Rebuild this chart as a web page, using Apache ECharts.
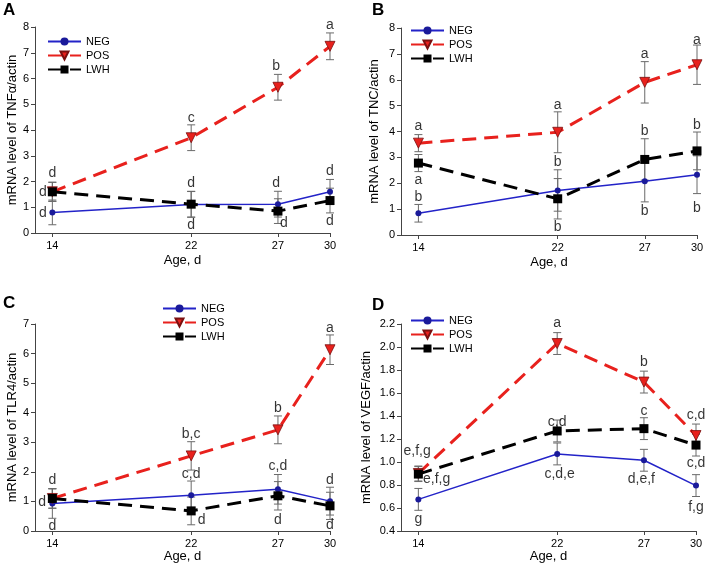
<!DOCTYPE html>
<html>
<head>
<meta charset="utf-8">
<script src="https://cdn.jsdelivr.net/npm/echarts@6/dist/echarts.min.js"></script>
<style>html,body{margin:0;padding:0;background:#fff}#c{width:709px;height:567px}</style>
</head>
<body>
<div id="c"></div>
<script>
// ---------- data ----------
const ages = [14, 22, 27, 30];
const xTicks = [14, 22, 27, 30];

// Panel A: TNFα
const negA = [0.80, 1.11, 1.12, 1.60];
const negAErr = [0.48, 0.50, 0.50, 0.48];
const posA = [1.60, 3.70, 5.66, 7.25];
const posAErr = [0.37, 0.50, 0.50, 0.52];
const lwhA = [1.60, 1.12, 0.85, 1.26];
const lwhAErr = [0.37, 0.50, 0.48, 0.48];
const annA = [[14,2.33,'d'],[13.45,1.58,'d'],[13.45,0.78,'d'],[22,1.92,'d'],[22,0.32,'d'],[26.9,1.92,'d'],[27.35,0.39,'d'],[30,2.39,'d'],[30,0.45,'d'],[22,4.47,'c'],[26.9,6.47,'b'],[30,8.09,'a']];

// Panel B: TNC
const negB = [0.84, 1.72, 2.08, 2.33];
const negBErr = [0.34, 0.80, 0.80, 0.73];
const posB = [3.55, 3.97, 5.90, 6.58];
const posBErr = [0.33, 0.79, 0.80, 0.76];
const lwhB = [2.78, 1.40, 2.92, 3.25];
const lwhBErr = [0.33, 0.78, 0.80, 0.73];
const annB = [[14,4.19,'a'],[14,2.13,'a'],[14,1.46,'b'],[22,5.03,'a'],[22,2.81,'b'],[22,0.32,'b'],[27,6.99,'a'],[27,4.03,'b'],[27,0.94,'b'],[30,7.55,'a'],[30,4.26,'b'],[30,1.03,'b']];

// Panel C: TLR4
const negC = [0.93, 1.21, 1.41, 1.01];
const negCErr = [0.50, 0.48, 0.50, 0.47];
const posC = [1.10, 2.54, 3.42, 6.13];
const posCErr = [0.33, 0.48, 0.47, 0.50];
const lwhC = [1.10, 0.68, 1.19, 0.85];
const lwhCErr = [0.33, 0.47, 0.48, 0.46];
const annC = [[14,1.72,'d'],[13.41,0.98,'d'],[14,0.16,'d'],[22,3.28,'b,c'],[22,1.91,'c,d'],[22.6,0.38,'d'],[27,4.15,'b'],[27,2.2,'c,d'],[27,0.38,'d'],[30,6.86,'a'],[30,1.72,'d'],[30,0.19,'d']];

// Panel D: VEGF
const negD = [0.675, 1.07, 1.015, 0.795];
const negDErr = [0.095, 0.095, 0.095, 0.095];
const posD = [0.90, 2.03, 1.695, 1.23];
const posDErr = [0.065, 0.095, 0.095, 0.10];
const lwhD = [0.895, 1.27, 1.29, 1.147];
const lwhDErr = [0.065, 0.095, 0.095, 0.095];
const annD = [[13.93,1.098,'e,f,g'],[15.05,0.848,'e,f,g'],[14,0.50,'g'],[22,2.21,'a'],[22,1.35,'c,d'],[22.14,0.894,'c,d,e'],[27,1.87,'b'],[27,1.44,'c'],[26.85,0.85,'d,e,f'],[30,1.41,'c,d'],[30,0.987,'c,d'],[30,0.61,'f,g']];

const letters = ['A', 'B', 'C', 'D'];
const yNames = ['mRNA level of TNFα/actin', 'mRNA level of TNC/actin', 'mRNA level of TLR4/actin', 'mRNA level of VEGF/actin'];
const yRanges = [[0, 8, 1], [0, 8, 1], [0, 7, 1], [0.4, 2.2, 0.2]];

// ---------- layout / style ----------
const FONT = 'Liberation Sans, Arial, sans-serif';
const grids = [
  {left: 35, top: 27, width: 295, height: 206},
  {left: 401, top: 28, width: 296, height: 207},
  {left: 35, top: 324, width: 295, height: 207},
  {left: 401, top: 324, width: 295, height: 207}
];
const letterPos = [[3, 2], [372, 2], [3, 295], [372, 297]];
const legendPos = [[47, 36], [410, 25], [162, 303], [410, 315]];
const yNameGap = [15, 20, 15, 20];
const xNameGap = [21, 21, 19, 19];

const panels = [
  {neg: negA, negE: negAErr, pos: posA, posE: posAErr, lwh: lwhA, lwhE: lwhAErr, ann: annA},
  {neg: negB, negE: negBErr, pos: posB, posE: posBErr, lwh: lwhB, lwhE: lwhBErr, ann: annB},
  {neg: negC, negE: negCErr, pos: posC, posE: posCErr, lwh: lwhC, lwhE: lwhCErr, ann: annC},
  {neg: negD, negE: negDErr, pos: posD, posE: posDErr, lwh: lwhD, lwhE: lwhDErr, ann: annD}
];

const BLUE = '#2323c8', RED = '#e8211d', BLACK = '#000000', AX = '#444444', ERR = '#6a6a6a';

function pts(vals) { return ages.map((a, i) => [a, vals[i]]); }
function errPts(vals, errs) { return ages.map((a, i) => [a, vals[i], errs[i]]); }

function errSeries(idx, vals, errs) {
  return {
    type: 'custom', xAxisIndex: idx, yAxisIndex: idx, silent: true, z: 1,
    data: errPts(vals, errs),
    renderItem: function (params, api) {
      const x = api.value(0), y = api.value(1), e = api.value(2);
      const t = api.coord([x, y + e]);
      const b = api.coord([x, y - e]);
      const w = 4;
      const st = {stroke: ERR, lineWidth: 1};
      return {type: 'group', children: [
        {type: 'line', shape: {x1: t[0], y1: t[1], x2: b[0], y2: b[1]}, style: st},
        {type: 'line', shape: {x1: t[0] - w, y1: t[1], x2: t[0] + w, y2: t[1]}, style: st},
        {type: 'line', shape: {x1: b[0] - w, y1: b[1], x2: b[0] + w, y2: b[1]}, style: st}
      ]};
    }
  };
}

const option = {
  animation: false,
  backgroundColor: '#ffffff',
  textStyle: {fontFamily: FONT},
  title: letters.map((l, i) => ({
    text: l, left: letterPos[i][0], top: letterPos[i][1], padding: 0,
    textStyle: {fontSize: 17, fontWeight: 'bold', color: '#000', fontFamily: FONT}
  })),
  legend: legendPos.map((p, i) => ({
    data: ['NEG', 'POS', 'LWH'], orient: 'vertical', left: p[0], top: p[1], padding: 0,
    itemWidth: 33, itemHeight: 10, itemGap: 3, selectedMode: false,
    textStyle: {fontSize: 11, color: '#000', fontFamily: FONT}
  })),
  grid: grids,
  xAxis: grids.map((g, i) => ({
    type: 'value', gridIndex: i, min: 13, max: 30,
    name: 'Age, d', nameLocation: 'middle', nameGap: xNameGap[i],
    nameTextStyle: {fontSize: 13, color: '#000', fontFamily: FONT},
    splitLine: {show: false},
    axisLine: {show: true, lineStyle: {color: AX, width: 1}},
    axisTick: {show: true, length: 4, lineStyle: {color: AX}, customValues: xTicks},
    axisLabel: {fontSize: 11, color: '#000', margin: 7, customValues: xTicks, fontFamily: FONT}
  })),
  yAxis: grids.map((g, i) => ({
    type: 'value', gridIndex: i, min: yRanges[i][0], max: yRanges[i][1], interval: yRanges[i][2],
    name: yNames[i], nameLocation: 'middle', nameGap: yNameGap[i] + (i === 3 ? 8 : 0), nameRotate: 90,
    nameTextStyle: {fontSize: 13, color: '#000', fontFamily: FONT},
    splitLine: {show: false},
    axisLine: {show: true, lineStyle: {color: AX, width: 1}},
    axisTick: {show: true, length: 4, lineStyle: {color: AX}},
    axisLabel: {fontSize: 11, color: '#000', margin: 6, fontFamily: FONT,
      formatter: i === 3 ? (v => v.toFixed(1)) : (v => String(v))}
  })),
  series: []
};

panels.forEach((p, i) => {
  option.series.push(errSeries(i, p.neg, p.negE));
  option.series.push(errSeries(i, p.pos, p.posE));
  option.series.push(errSeries(i, p.lwh, p.lwhE));
  option.series.push({
    name: 'NEG', type: 'line', xAxisIndex: i, yAxisIndex: i, z: 3,
    data: pts(p.neg), symbol: 'circle', symbolSize: 6,
    lineStyle: {color: BLUE, width: 1.5, type: 'solid'},
    itemStyle: {color: '#1a1a9a', borderColor: '#1a1a9a', borderWidth: 0}
  });
  option.series.push({
    name: 'POS', type: 'line', xAxisIndex: i, yAxisIndex: i, z: 4,
    data: pts(p.pos), symbol: 'triangle', symbolRotate: 180, symbolSize: 10,
    lineStyle: {color: RED, width: 3, type: [14, 8]},
    itemStyle: {color: RED, borderColor: '#7a1010', borderWidth: 0.8}
  });
  option.series.push({
    name: 'LWH', type: 'line', xAxisIndex: i, yAxisIndex: i, z: 5,
    data: pts(p.lwh), symbol: 'rect', symbolSize: 9,
    lineStyle: {color: BLACK, width: 3, type: [14, 8]},
    itemStyle: {color: BLACK, borderWidth: 0}
  });
  option.series.push({
    type: 'scatter', xAxisIndex: i, yAxisIndex: i, z: 6, silent: true, clip: false,
    symbolSize: 1, itemStyle: {color: 'rgba(0,0,0,0)'},
    data: p.ann.map(a => ({value: [a[0], a[1]], name: a[2]})),
    label: {show: true, position: 'inside', formatter: '{b}', fontSize: 14, color: '#000',
      fontFamily: FONT, align: 'center', verticalAlign: 'middle'}
  });
});

const chart = echarts.init(document.getElementById('c'), null, {renderer: 'canvas'});
chart.setOption(option);
</script>
</body>
</html>
